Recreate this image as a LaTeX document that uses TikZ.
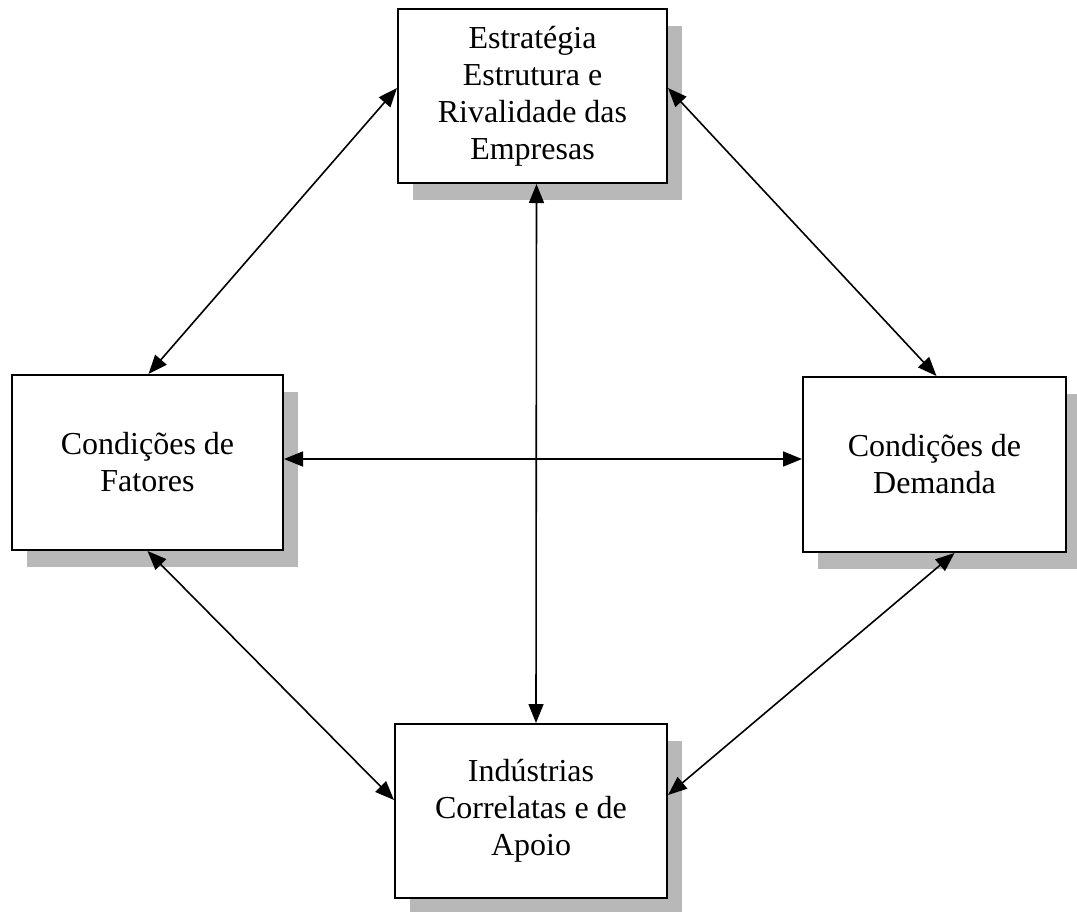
\documentclass[tikz,border=0pt]{standalone}
\usepackage{fontspec}
\setmainfont{Liberation Serif}
\usetikzlibrary{arrows.meta,shadows}
\tikzset{
  box/.style={draw=black, line width=2pt, fill=white, align=center,
    inner sep=0pt, font=\fontsize{32}{37}\selectfont,
    drop shadow={shadow xshift=15pt, shadow yshift=-17pt, fill=black!28, opacity=1}},
  link/.style={line width=1.6pt, {Triangle[length=19pt,width=15pt]}-{Triangle[length=19pt,width=15pt]}}
}
\begin{document}
\begin{tikzpicture}[x=1pt,y=-1pt]
\useasboundingbox (0,0) rectangle (1077,911);
\node[box, minimum width=269pt, minimum height=174pt] (top) at (532.5,96)
  {Estratégia\\Estrutura e\\Rivalidade das\\Empresas};
\node[box, minimum width=271pt, minimum height=175pt] (left) at (147.5,462.5)
  {Condições de\\Fatores};
\node[box, minimum width=263pt, minimum height=175pt] (right) at (934.5,464.5)
  {Condições de\\Demanda};
\node[box, minimum width=272pt, minimum height=174pt] (bottom) at (531,811)
  {Indústrias\\Correlatas e de\\Apoio};
\draw[link] ([yshift=8pt]top.west) -- ([xshift=1pt]left.north);
\draw[link] ([yshift=8pt]top.east) -- ([xshift=2pt]right.north);
\draw[link] (left.south) -- ([yshift=11pt]bottom.west);
\draw[link] ([xshift=20pt]right.south) -- ([yshift=16pt]bottom.east);
\draw[link] ([xshift=4pt]top.south) -- ([xshift=5pt]bottom.north);
\draw[link] ([yshift=3.5pt]left.east) -- ([yshift=5.5pt]right.west);
\end{tikzpicture}
\end{document}
